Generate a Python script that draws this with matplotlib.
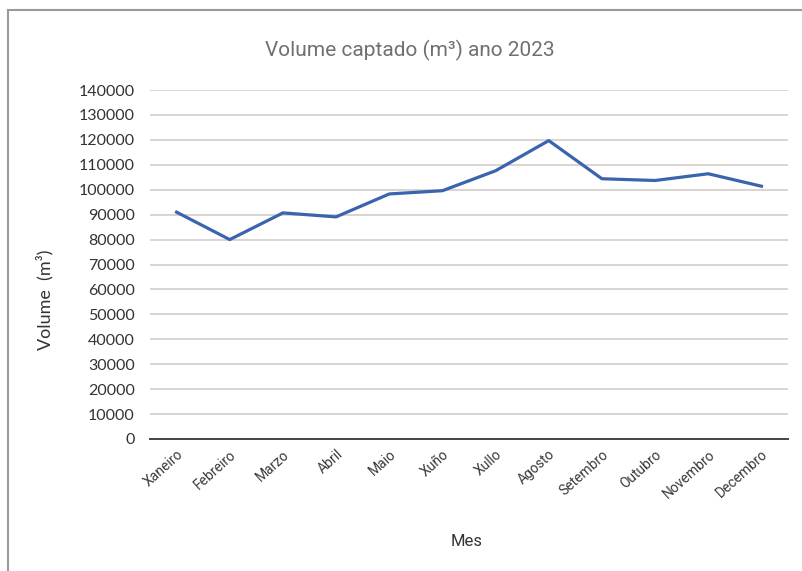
import matplotlib
matplotlib.use("Agg")
import matplotlib.pyplot as plt
from matplotlib.lines import Line2D

months = ["Xaneiro", "Febreiro", "Marzo", "Abril", "Maio", "Xuño", "Xullo",
          "Agosto", "Setembro", "Outubro", "Novembro", "Decembro"]
volume = [91000, 80000, 90700, 89100, 98300, 99600, 107600,
          119700, 104400, 103700, 106400, 101400]
yticks = list(range(0, 140001, 10000))

fig = plt.figure(figsize=(8.03, 5.71), dpi=100)
fig.patch.set_facecolor("white")

# frame (top and left edges visible)
fig.add_artist(Line2D([8/803, 8/803], [0, 1 - 10/571], transform=fig.transFigure,
                      color="#9a9a9a", lw=1.5))
fig.add_artist(Line2D([8/803, 1], [1 - 10/571, 1 - 10/571], transform=fig.transFigure,
                      color="#9a9a9a", lw=1.5))

ax = fig.add_axes([150/803, 1 - 439/571, 638/803, 349/571])
x = list(range(len(months)))
ax.plot(x, volume, color="#3a64ae", lw=2.3, solid_joinstyle="round", zorder=3)

ax.set_xlim(-0.5, len(months) - 0.5)
ax.set_ylim(0, 140000)
ax.set_yticks(yticks)
ax.set_yticklabels([str(v) for v in yticks], fontfamily="Lato", fontsize=11.5, color="#333333")
ax.set_xticks(x)
ax.set_xticklabels(months, rotation=42, ha="right", rotation_mode="anchor",
                   fontfamily="Roboto", fontsize=10, color="#3a3a3a")
ax.tick_params(axis="both", length=0)
ax.tick_params(axis="y", pad=11)
ax.tick_params(axis="x", pad=6)

for s in ["top", "right", "left"]:
    ax.spines[s].set_visible(False)
ax.spines["bottom"].set_color("#444444")
ax.spines["bottom"].set_linewidth(1.4)

ax.grid(axis="y", color="#d2c8c3", lw=1.1)
ax.set_axisbelow(True)

fig.text(410/803, 1 - 50/571, "Volume captado (m³) ano 2023", fontfamily="Roboto",
         fontsize=15, color="#707070", ha="center", va="center")
ax.set_xlabel("Mes", fontfamily="Roboto", fontsize=12, color="#333333")
ax.xaxis.set_label_coords((467 - 150) / 638, -(542 - 439) / 349)
ax.xaxis.label.set_va("center")
ax.set_ylabel("Volume  (m³)", fontfamily="Lato", fontsize=13, color="#333333")
ax.yaxis.set_label_coords((45 - 150) / 638, (439 - 300) / 349)
ax.yaxis.label.set_va("center")

fig.savefig("out.png", dpi=100, facecolor="white")
